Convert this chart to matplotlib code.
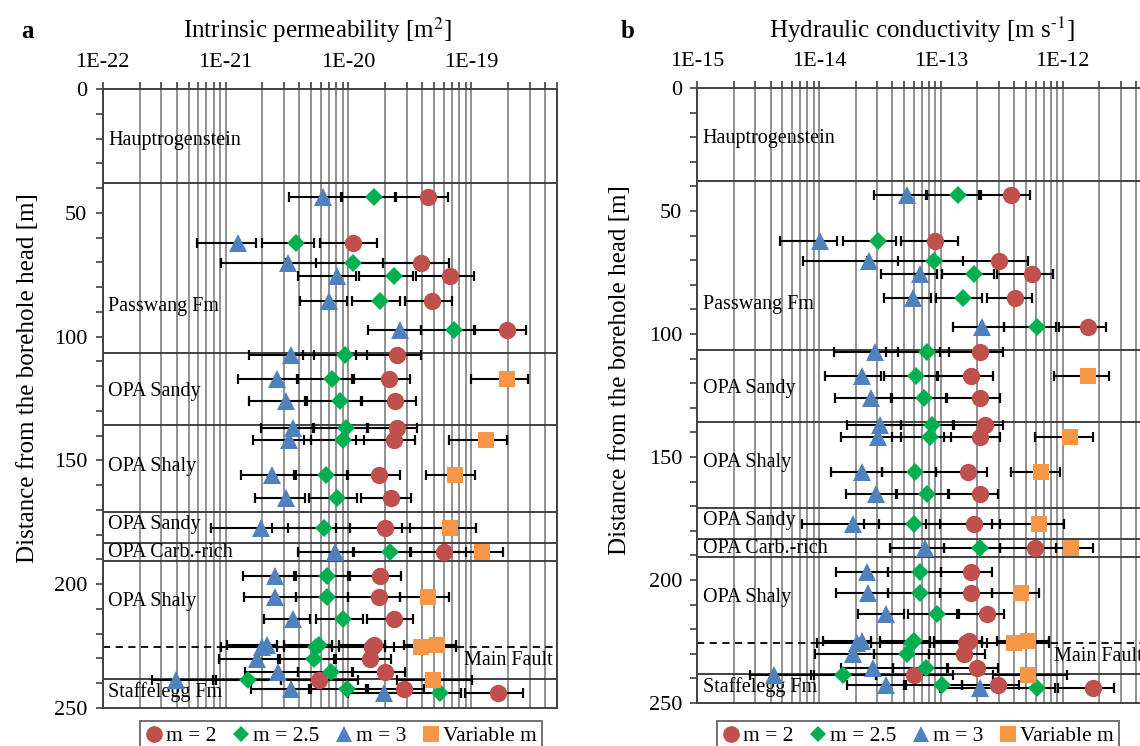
import numpy as np
import matplotlib
matplotlib.use("Agg")
import matplotlib.pyplot as plt
from matplotlib.lines import Line2D
from matplotlib.ticker import FixedLocator, LogLocator, FuncFormatter, NullFormatter, MultipleLocator

plt.rcParams['font.family'] = ['Liberation Serif', 'DejaVu Serif']
plt.rcParams['mathtext.fontset'] = 'stix'

# depth of each test interval [m]
depth = [43.5, 62.3, 70.4, 75.5, 85.5, 97.3, 107.4, 117.2, 126.0, 136.8, 141.8, 155.9, 165.1,
         177.4, 186.9, 196.7, 205.1, 213.9, 225.5, 224.6, 230.2, 235.6, 238.7, 242.5, 244.1]

# panel a: log10 of intrinsic permeability [m2], value / lower / upper bound
a_m2 = [-19.35, -19.96, -19.41, -19.17, -19.32, -18.71, -19.60, -19.67, -19.62, -19.60, -19.63, -19.75, -19.65,
        -19.70, -19.22, -19.74, -19.75, -19.63, -19.81, -19.79, -19.82, -19.70, -20.24, -19.55, -18.78]
a_m2_lo = [-19.61, -20.23, -19.97, -19.45, -19.54, -18.97, -19.94, -19.95, -19.89, -19.84, -19.94, -20.00, -19.90,
           -20.10, -19.50, -19.99, -20.00, -19.85, -20.13, -20.08, -20.10, -19.96, -20.55, -19.84, -19.05]
a_m2_hi = [-19.19, -19.77, -19.18, -18.98, -19.16, -18.55, -19.41, -19.50, -19.45, -19.44, -19.46, -19.58, -19.49,
           -19.50, -19.04, -19.57, -19.58, -19.47, -19.63, -19.70, -19.65, -19.54, -19.92, -19.38, -18.58]
a_m25 = [-19.79, -20.43, -19.96, -19.63, -19.74, -19.14, -20.03, -20.13, -20.07, -20.02, -20.04, -20.18, -20.09,
         -20.20, -19.66, -20.17, -20.17, -20.04, -20.26, -20.24, -20.28, -20.14, -20.82, -20.01, -19.25]
a_m25_lo = [-20.05, -20.70, -20.51, -19.91, -19.97, -19.41, -20.37, -20.41, -20.34, -20.28, -20.36, -20.43, -20.32,
            -20.62, -19.96, -20.43, -20.43, -20.26, -20.58, -20.52, -20.56, -20.41, -21.10, -20.30, -19.55]
a_m25_hi = [-19.62, -20.28, -19.72, -19.47, -19.58, -18.98, -19.85, -19.97, -19.90, -19.85, -19.87, -20.01, -19.93,
            -19.99, -19.49, -20.00, -20.00, -19.88, -20.08, -20.13, -20.12, -19.97, -20.55, -19.86, -19.08]
a_m3 = [-20.21, -20.90, -20.49, -20.09, -20.16, -19.58, -20.47, -20.58, -20.51, -20.45, -20.48, -20.62, -20.51,
        -20.71, -20.11, -20.60, -20.60, -20.45, -20.70, -20.66, -20.74, -20.57, -21.40, -20.47, -19.71]
a_m3_lo = [-20.48, -21.23, -21.04, -20.41, -20.39, -19.84, -20.81, -20.90, -20.81, -20.71, -20.78, -20.87, -20.76,
           -21.12, -20.41, -20.86, -20.85, -20.69, -21.04, -20.99, -21.05, -20.84, -21.60, -20.79, -20.00]
a_m3_hi = [-20.06, -20.75, -20.26, -19.94, -20.01, -19.41, -20.28, -20.42, -20.35, -20.29, -20.30, -20.44, -20.35,
           -20.49, -19.95, -20.44, -20.43, -20.31, -20.52, -20.58, -20.57, -20.41, -21.08, -20.32, -19.55]

# panel b: log10 of hydraulic conductivity [m/s]
b_m2 = [-12.42, -13.05, -12.52, -12.25, -12.39, -11.79, -12.68, -12.75, -12.68, -12.64, -12.68, -12.78, -12.68,
        -12.73, -12.23, -12.75, -12.75, -12.62, -12.79, -12.77, -12.81, -12.70, -13.22, -12.53, -11.75]
b_m2_lo = [-12.67, -13.33, -13.08, -12.54, -12.62, -12.03, -13.01, -13.02, -12.95, -12.89, -12.97, -13.04, -12.93,
           -13.12, -12.51, -13.00, -13.01, -12.85, -13.09, -13.06, -13.10, -12.94, -13.53, -12.83, -12.04]
b_m2_hi = [-12.27, -12.86, -12.28, -12.08, -12.25, -11.64, -12.49, -12.57, -12.51, -12.49, -12.51, -12.62, -12.53,
           -12.51, -12.05, -12.58, -12.58, -12.48, -12.62, -12.66, -12.64, -12.53, -12.90, -12.36, -11.58]
b_m25 = [-12.86, -13.52, -13.06, -12.73, -12.82, -12.21, -13.11, -13.20, -13.14, -13.07, -13.09, -13.21, -13.11,
         -13.22, -12.68, -13.17, -13.17, -13.03, -13.24, -13.22, -13.28, -13.12, -13.80, -12.99, -12.21]
b_m25_lo = [-13.11, -13.80, -13.61, -12.99, -13.04, -12.48, -13.45, -13.47, -13.40, -13.33, -13.40, -13.48, -13.36,
            -13.63, -12.97, -13.43, -13.43, -13.27, -13.57, -13.50, -13.55, -13.39, -14.07, -13.29, -12.53]
b_m25_hi = [-12.69, -13.37, -12.82, -12.56, -12.66, -12.05, -12.93, -13.03, -12.96, -12.90, -12.92, -13.04, -12.94,
            -13.01, -12.51, -13.00, -13.01, -12.87, -13.06, -13.09, -13.10, -12.95, -13.53, -12.83, -12.06]
b_m3 = [-13.28, -13.99, -13.59, -13.17, -13.23, -12.66, -13.54, -13.65, -13.57, -13.50, -13.52, -13.65, -13.53,
        -13.72, -13.13, -13.61, -13.60, -13.45, -13.69, -13.65, -13.72, -13.56, -14.37, -13.45, -12.68]
b_m3_lo = [-13.55, -14.32, -14.13, -13.49, -13.47, -12.90, -13.88, -13.95, -13.87, -13.77, -13.82, -13.90, -13.78,
           -14.14, -13.42, -13.86, -13.86, -13.68, -14.02, -13.97, -14.03, -13.82, -14.57, -13.77, -13.01]
b_m3_hi = [-13.12, -13.85, -13.35, -13.03, -13.08, -12.48, -13.35, -13.49, -13.41, -13.33, -13.33, -13.48, -13.37,
           -13.51, -12.97, -13.43, -13.43, -13.30, -13.50, -13.57, -13.55, -13.39, -14.04, -13.30, -12.53]

# variable m, only some intervals
var_depth = [117.2, 141.8, 155.9, 177.4, 186.9, 205.1, 225.5, 224.6, 238.7]
a_var = [-18.71, -18.88, -19.13, -19.17, -18.91, -19.35, -19.41, -19.28, -19.31]
a_var_lo = [-19.00, -19.18, -19.37, -19.56, -19.22, -19.58, -19.70, -19.55, -19.60]
a_var_hi = [-18.54, -18.71, -18.97, -18.96, -18.74, -19.18, -19.12, -19.12, -18.99]
b_var = [-11.79, -11.94, -12.18, -12.19, -11.93, -12.34, -12.40, -12.28, -12.28]
b_var_lo = [-12.07, -12.23, -12.42, -12.58, -12.23, -12.58, -12.66, -12.54, -12.57]
b_var_hi = [-11.62, -11.75, -12.02, -11.99, -11.75, -12.19, -12.11, -12.11, -11.96]

# geology
unit_bounds = [38.0, 106.5, 135.7, 170.7, 183.2, 190.7, 238.3]
fault_depth = 225.5
unit_names = ["Hauptrogenstein", "Passwang Fm", "OPA Sandy", "OPA Shaly", "OPA Sandy",
              "OPA Carb.-rich", "OPA Shaly", "Staffelegg Fm"]
unit_label_y = [20.6, 88.0, 122.0, 152.3, 176.0, 187.0, 207.0, 243.5]

a_ticks = [1e-22, 1e-21, 1e-20, 1e-19]
b_ticks = [1e-15, 1e-14, 1e-13, 1e-12]

red, green, blue, orange = '#C0504D', '#00B050', '#4F81BD', '#F79646'
grey = '#404040'
W, H = 1140, 746

fig = plt.figure(figsize=(W / 100, H / 100), dpi=100)
ax_a = fig.add_axes([102.7 / W, 1 - 708 / H, (557 - 102.7) / W, (708 - 89) / H])
ax_b = fig.add_axes([697.4 / W, 1 - 703 / H, (1147.6 - 697.4) / W, (703 - 88) / H])


def draw_panel(ax, xlim, ticks, series, var):
    ax.set_xscale('log')
    ax.set_xlim(*xlim)
    ax.set_ylim(250, 0)
    ax.xaxis.tick_top()
    ax.xaxis.set_major_locator(FixedLocator(ticks))
    ax.xaxis.set_minor_locator(LogLocator(base=10, subs=np.arange(2, 10), numticks=30))
    ax.xaxis.set_major_formatter(FuncFormatter(lambda v, p: '1E%d' % round(np.log10(v))))
    ax.xaxis.set_minor_formatter(NullFormatter())
    ax.yaxis.set_major_locator(MultipleLocator(50))
    ax.yaxis.set_minor_locator(MultipleLocator(10))
    ax.grid(True, which='both', axis='x', color='#7f7f7f', lw=1.2)
    ax.set_axisbelow(True)
    ax.tick_params(axis='x', which='both', direction='out', length=5, width=1.2, color=grey,
                   labelsize=16, pad=7)
    ax.tick_params(axis='y', which='both', direction='out', length=5, width=1.2, color=grey,
                   labelsize=16, pad=6)
    for s in ax.spines.values():
        s.set_color(grey)
        s.set_linewidth(1.4)

    for d in unit_bounds:
        ax.axhline(d, color=grey, lw=1.4, zorder=1.5)
    ax.axhline(fault_depth, color='black', lw=1.3, ls=(0, (4, 3)), zorder=1.5)

    tr = ax.get_yaxis_transform()
    for name, y in zip(unit_names, unit_label_y):
        ax.text(0.012, y, name, transform=tr, ha='left', va='center', fontsize=14.5)
    ax.text(0.99, 231, "Main Fault", transform=tr, ha='right', va='center', fontsize=14.5,
            clip_on=True)

    # error bars first, markers on top
    for (vals, lo, hi, y, mk, col, ms) in series + [var]:
        x = 10 ** np.array(vals)
        xl = 10 ** np.array(lo)
        xh = 10 ** np.array(hi)
        ax.errorbar(x, y, xerr=[x - xl, xh - x], fmt='none', ecolor='black',
                    elinewidth=1.5, capsize=3.6, capthick=1.6, zorder=3)
    for (vals, lo, hi, y, mk, col, ms) in series + [var]:
        ax.plot(10 ** np.array(vals), y, ls='none', marker=mk, color=col, ms=ms,
                markeredgewidth=0, zorder=4)


series_a = [
    (a_m2, a_m2_lo, a_m2_hi, depth, 'o', red, 12.5),
    (a_m25, a_m25_lo, a_m25_hi, depth, 'D', green, 9),
    (a_m3, a_m3_lo, a_m3_hi, depth, '^', blue, 13),
]
series_b = [
    (b_m2, b_m2_lo, b_m2_hi, depth, 'o', red, 12.5),
    (b_m25, b_m25_lo, b_m25_hi, depth, 'D', green, 9),
    (b_m3, b_m3_lo, b_m3_hi, depth, '^', blue, 13),
]
draw_panel(ax_a, (1e-22, 5e-19), a_ticks, series_a,
           (a_var, a_var_lo, a_var_hi, var_depth, 's', orange, 12))
draw_panel(ax_b, (1e-15, 5e-12), b_ticks, series_b,
           (b_var, b_var_lo, b_var_hi, var_depth, 's', orange, 12))

# titles, axis labels, panel letters
fig.text(317 / W, 1 - 30 / H, r"Intrinsic permeability [m$^{2}$]", ha='center', va='center', fontsize=18)
fig.text(922 / W, 1 - 30 / H, r"Hydraulic conductivity [m s$^{\text{-}1}$]", ha='center', va='center',
         fontsize=18)
fig.text(28 / W, 1 - 378 / H, "Distance from the borehole head [m]", rotation=90,
         ha='center', va='center', fontsize=18)
fig.text(620 / W, 1 - 370 / H, "Distance from the borehole head [m]", rotation=90,
         ha='center', va='center', fontsize=18)
fig.text(28 / W, 1 - 31 / H, "a", ha='center', va='center', fontsize=18, fontweight='bold')
fig.text(628 / W, 1 - 31 / H, "b", ha='center', va='center', fontsize=18, fontweight='bold')

handles = [
    Line2D([], [], ls='none', marker='o', color=red, ms=12, mew=0),
    Line2D([], [], ls='none', marker='D', color=green, ms=8.5, mew=0),
    Line2D([], [], ls='none', marker='^', color=blue, ms=12, mew=0),
    Line2D([], [], ls='none', marker='s', color=orange, ms=11, mew=0),
]
labels = ["m = 2", "m = 2.5", "m = 3", "Variable m"]
for cx in (341, 918):
    leg = fig.legend(handles, labels, loc='upper center', bbox_to_anchor=(cx / W, 1 - 721 / H),
                     ncol=4, fontsize=15.5, frameon=True, fancybox=False, handlelength=0.8,
                     handletextpad=0.15, columnspacing=0.75, borderpad=0.25, borderaxespad=0)
    leg.get_frame().set_edgecolor(grey)
    leg.get_frame().set_linewidth(1.3)

fig.savefig("out.png", dpi=100)
